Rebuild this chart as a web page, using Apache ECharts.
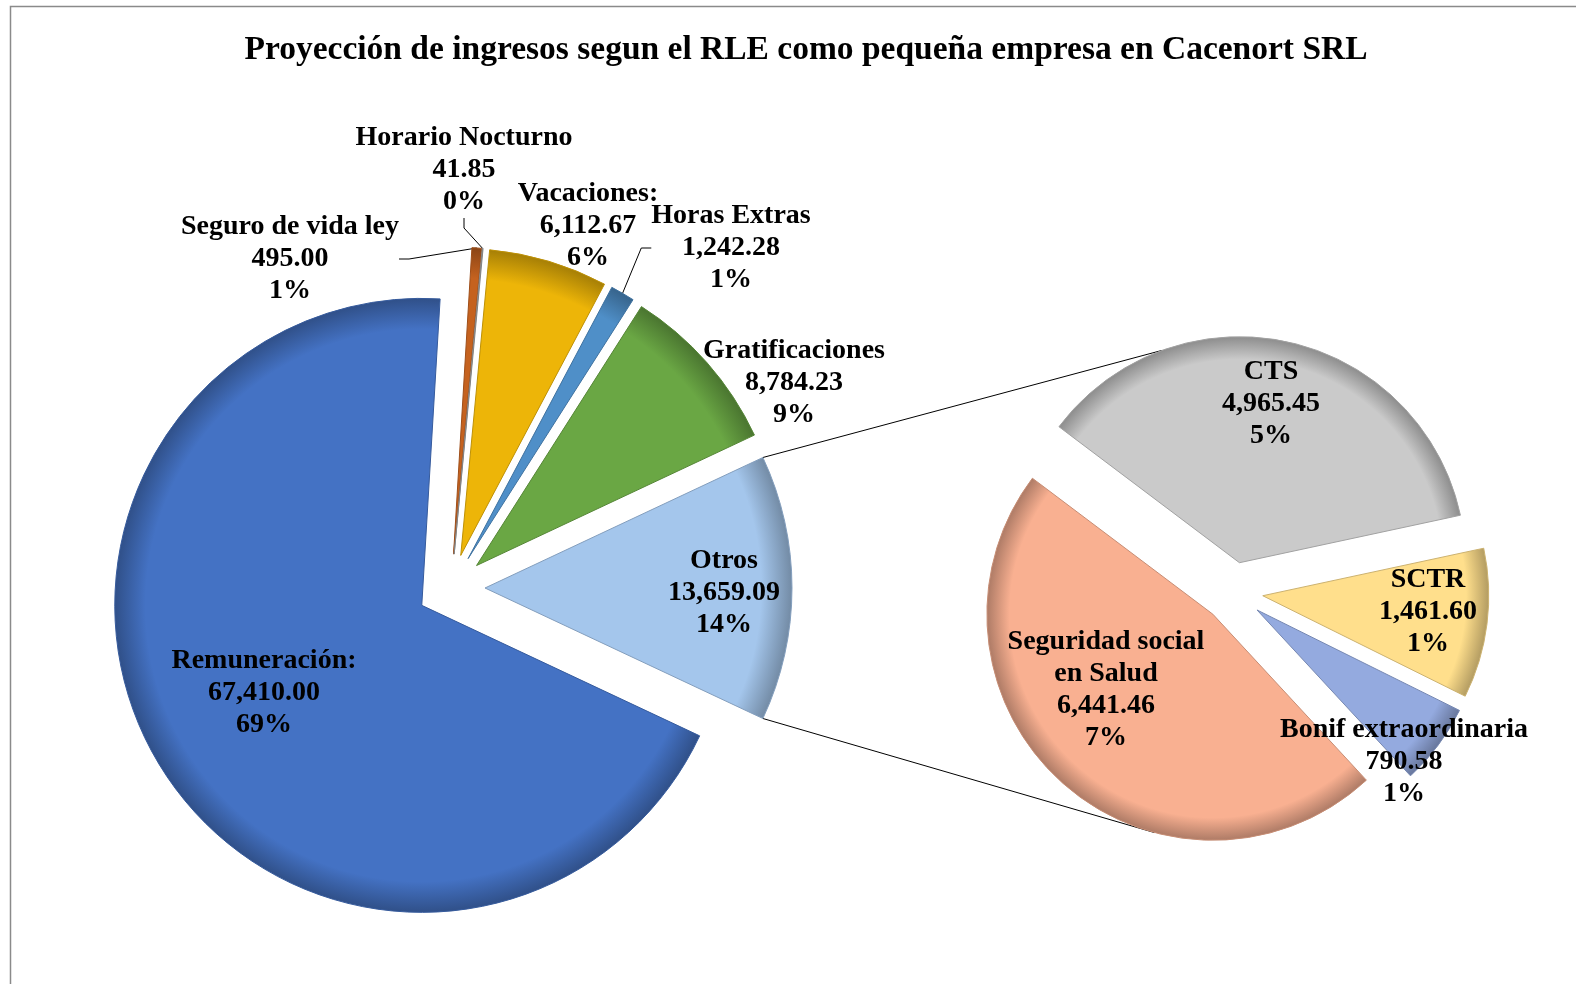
<!DOCTYPE html>
<html>
<head>
<meta charset="utf-8">
<title>Proyección de ingresos</title>
<script src="https://cdn.jsdelivr.net/npm/echarts@6/dist/echarts.min.js"></script>
<style>
  html, body { margin: 0; padding: 0; background: #fff; }
  #chart { width: 1576px; height: 984px; }
</style>
</head>
<body>
<div id="chart"></div>
<script>
// main pie, clockwise from the "Otros" split
const mainNames = ['Remuneración:', 'Seguro de vida ley', 'Horario Nocturno', 'Vacaciones:', 'Horas Extras', 'Gratificaciones', 'Otros']
const otrosNames = ['CTS', 'SCTR', 'Bonif extraordinaria', 'Seguridad social\nen Salud']
const otrosValues = [4965.45, 1461.60, 790.58, 6441.46]
const otrosTotal = otrosValues.reduce((s, v) => s + v, 0)
const mainValues = [67410.00, 495.00, 41.85, 6112.67, 1242.28, 8784.23, otrosTotal]

const mainColors = ['#4472C4', '#C5621F', '#A5A5A5', '#EDB508', '#4F8FC8', '#6AA744', '#A4C6EC']
const otrosColors = ['#CACACA', '#FFDF8C', '#94AADF', '#F9B091']

const FONT = '"Times New Roman", "Liberation Serif", serif'
const total = mainValues.reduce((s, v) => s + v, 0)

const MAIN = { cx: 451, cy: 588, r: 307, gap: 34, start: -(otrosTotal / total) * 180 }
const SIDE = { cx: 1233, cy: 592, r: 226, gap: 30, start: 143 }
const LINK_ANGLES = [110, -105]

// label centres
const mainLabelAt = [[264, 693], [290, 259], [464, 170], [588, 226], [731, 248], [794, 383], [724, 593]]
const sideLabelAt = [[1271, 404], [1428, 612], [1404, 762], [1106, 690]]
const mainLeader = [false, true, true, false, true, false, false]

const rad = Math.PI / 180

function fmt(v) {
  const parts = v.toFixed(2).split('.')
  parts[0] = parts[0].replace(/\B(?=(\d{3})+(?!\d))/g, ',')
  return parts.join('.')
}

function shade(hex, k) {
  const n = parseInt(hex.slice(1), 16)
  const c = [(n >> 16) & 255, (n >> 8) & 255, n & 255].map(x => Math.round(x * k))
  return 'rgb(' + c.join(',') + ')'
}

function labelText(p) {
  return p.name + '\n' + fmt(p.value) + '\n' + Math.round(p.value / total * 100) + '%'
}

// mid angle (degrees) of each slice, clockwise from start
function midAngles(values, start) {
  const sum = values.reduce((s, v) => s + v, 0)
  let acc = 0
  return values.map(v => {
    const span = v / sum * 360
    const m = start - acc - span / 2
    acc += span
    return m
  })
}

const labelStyle = {
  show: true,
  formatter: labelText,
  fontFamily: FONT,
  fontWeight: 'bold',
  fontSize: 28,
  lineHeight: 32,
  color: '#000',
  align: 'center'
}

// one series per slice so that every slice can be pulled out on its own
function explodedPie(pie, names, values, colors, labelAt, leader) {
  const mids = midAngles(values, pie.start)
  return values.map((_, i) => {
    const cx = pie.cx + pie.gap * Math.cos(mids[i] * rad)
    const cy = pie.cy - pie.gap * Math.sin(mids[i] * rad)
    const col = colors[i]
    return {
      type: 'pie',
      center: [cx, cy],
      radius: pie.r,
      startAngle: pie.start,
      clockwise: true,
      silent: true,
      avoidLabelOverlap: false,
      label: Object.assign({}, labelStyle, { position: leader[i] ? 'outside' : 'inside' }),
      labelLine: { show: leader[i], length: 12, length2: 10, lineStyle: { color: '#000', width: 1 } },
      labelLayout: p => p.dataIndex === i
        ? { x: labelAt[i][0], y: labelAt[i][1], align: 'center', verticalAlign: 'middle' }
        : {},
      data: values.map((v, j) => j === i
        ? {
            name: names[j],
            value: v,
            itemStyle: {
              color: {
                type: 'radial', x: cx, y: cy, r: pie.r, global: true,
                colorStops: [
                  { offset: 0, color: col },
                  { offset: 0.9, color: col },
                  { offset: 1, color: shade(col, 0.7) }
                ]
              },
              borderColor: shade(col, 0.8),
              borderWidth: 1
            }
          }
        : {
            name: names[j],
            value: v,
            itemStyle: { color: 'rgba(0,0,0,0)', borderWidth: 0 },
            label: { show: false },
            labelLine: { show: false }
          })
    }
  })
}

// connector lines from the Otros slice to the second pie
const half = (otrosTotal / total) * 180
const sideMids = midAngles(otrosValues, SIDE.start)
const links = [
  { a: half, mid: sideMids[0], to: LINK_ANGLES[0] },
  { a: -half, mid: sideMids[3], to: LINK_ANGLES[1] }
].map(l => {
  const x1 = MAIN.cx + MAIN.gap + MAIN.r * Math.cos(l.a * rad)
  const y1 = MAIN.cy - MAIN.r * Math.sin(l.a * rad)
  const ex = SIDE.cx + SIDE.gap * Math.cos(l.mid * rad)
  const ey = SIDE.cy - SIDE.gap * Math.sin(l.mid * rad)
  return {
    type: 'line',
    shape: { x1, y1, x2: ex + SIDE.r * Math.cos(l.to * rad), y2: ey - SIDE.r * Math.sin(l.to * rad) },
    style: { stroke: '#000', lineWidth: 1 },
    z: 1
  }
})

const chart = echarts.init(document.getElementById('chart'))
chart.setOption({
  backgroundColor: '#fff',
  animation: false,
  title: {
    text: 'Proyección de ingresos segun el RLE como pequeña empresa en Cacenort SRL',
    left: 801,
    top: 28,
    textAlign: 'center',
    textStyle: { fontFamily: FONT, fontWeight: 'bold', fontSize: 33.5, color: '#000' }
  },
  graphic: [
    {
      type: 'rect',
      shape: { x: 10.5, y: 6.5, width: 1600, height: 1000 },
      style: { fill: 'none', stroke: '#8a8a8a', lineWidth: 1.5 },
      silent: true
    }
  ].concat(links),
  series: explodedPie(MAIN, mainNames, mainValues, mainColors, mainLabelAt, mainLeader)
    .concat(explodedPie(SIDE, otrosNames, otrosValues, otrosColors, sideLabelAt, otrosValues.map(() => false)))
})
</script>
</body>
</html>
